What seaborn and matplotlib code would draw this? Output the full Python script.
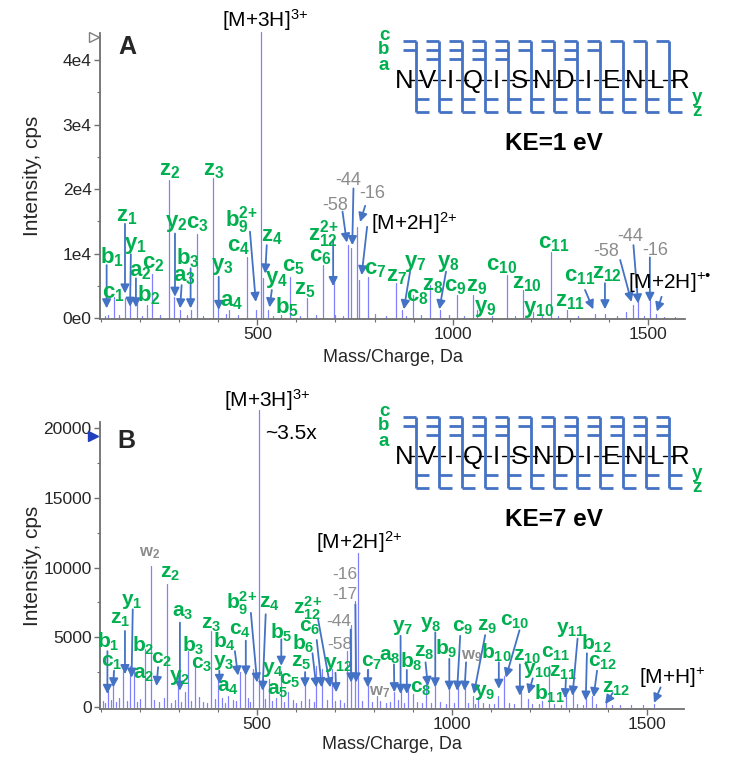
import numpy as np
import pandas as pd
import matplotlib
matplotlib.use("Agg")
import matplotlib.pyplot as plt
import seaborn as sns

sns.set_theme(style="white")
plt.rcParams["font.family"] = ["Liberation Sans", "DejaVu Sans"]
plt.rcParams["mathtext.fontset"] = "custom"
plt.rcParams["mathtext.rm"] = "Liberation Sans"
plt.rcParams["mathtext.bf"] = "Liberation Sans:bold"
plt.rcParams["mathtext.it"] = "Liberation Sans:italic"

# ---- Panel A (KE = 1 eV) peaks: m/z and intensity (cps)
a_mz = [118, 134, 161, 174, 191, 217, 231, 273, 287, 302, 329, 345, 387, 400, 428, 473, 496,
        509, 515, 528, 584, 626, 669, 696, 733, 740, 754, 761, 784, 854, 870, 898, 942, 968,
        1010, 1053, 1062, 1138, 1179, 1207, 1251, 1292, 1365, 1390, 1444, 1463, 1475, 1505, 1521]
a_int = [470, 3300, 3050, 2800, 2800, 2000, 6900, 21400, 3300, 1250, 1250, 13100, 21650, 1750,
         1250, 9500, 1250, 44400, 6150, 1250, 6400, 3050, 8200, 5900, 11300, 10800, 14150, 5900,
         6400, 5400, 1250, 3550, 5100, 1250, 3550, 3550, 1250, 6650, 4350, 1000, 10300, 1250,
         700, 700, 1000, 2000, 2800, 2800, 700]
a_noise_mz = [110, 145, 205, 250, 320, 360, 420, 450, 540, 560, 610, 650, 700, 720, 800, 830,
              880, 920, 990, 1030, 1100, 1160, 1230, 1270, 1320, 1420, 1490, 1540, 1570]
a_noise_int = [300, 450, 350, 400, 500, 380, 600, 420, 350, 500, 300, 450, 400, 350, 600, 380,
               300, 450, 400, 350, 300, 280, 350, 300, 250, 300, 250, 200, 180]

# ---- Panel B (KE = 7 eV) peaks
b_mz = [117, 131, 157, 174, 184, 212, 227, 269, 298, 315, 323, 340, 383, 400, 426, 456, 468,
        490, 505, 514, 531, 562, 579, 623, 652, 666, 693, 730, 740, 750, 758, 784, 807, 852,
        870, 887, 899, 934, 957, 993, 1015, 1032, 1053, 1066, 1117, 1134, 1177, 1194, 1232,
        1249, 1292, 1309, 1343, 1360, 1395, 1518]
b_int = [1160, 2470, 2600, 2950, 2700, 4150, 10100, 8800, 2470, 1050, 4000, 3050, 5450, 1900,
         800, 2470, 2600, 2700, 21300, 2000, 2000, 2600, 1050, 2470, 2950, 2700, 2700, 4000,
         5900, 7600, 11050, 2700, 800, 1050, 1300, 1300, 930, 1900, 1500, 1650, 1650, 1400,
         800, 700, 800, 2250, 1050, 570, 450, 2950, 1300, 1050, 570, 800, 570, 200]
b_noise_mz = [104, 110, 124, 138, 145, 166, 192, 200, 236, 248, 262, 280, 290, 306, 330, 352,
              362, 372, 392, 410, 418, 438, 446, 476, 482, 520, 538, 548, 570, 592, 600, 612,
              632, 645, 680, 700, 712, 722, 770, 795, 815, 830, 842, 862, 878, 910, 922, 945,
              970, 985, 1005, 1042, 1060, 1080, 1095, 1108, 1145, 1160, 1205, 1222, 1262, 1280,
              1320, 1335, 1370, 1410, 1430, 1460, 1490]
b_noise_int = [420, 300, 520, 380, 610, 450, 330, 560, 480, 350, 640, 290, 510, 380, 450, 700,
               360, 280, 540, 620, 300, 470, 390, 650, 320, 580, 430, 610, 370, 500, 260, 430,
               560, 340, 480, 390, 520, 300, 450, 360, 410, 280, 330, 470, 250, 360, 300, 280,
               320, 240, 300, 260, 220, 280, 200, 240, 260, 200, 230, 180, 210, 170, 200, 160,
               180, 150, 170, 140, 150]

# ---- Panel A annotations: label, label position, optional arrow (tail -> tip)
a_lab = ["b_{1}", "c_{1}", "z_{1}", "y_{1}", "a_{2}", "c_{2}", "b_{2}", "z_{2}", "y_{2}", "c_{3}",
         "b_{3}", "a_{3}", "z_{3}", "y_{3}", "a_{4}", "c_{4}", "b_{9}^{2\\!+}", "z_{4}", "y_{4}",
         "b_{5}", "c_{5}", "z_{5}", "c_{6}", "z_{12}^{2\\!+}", "-58", "-44", "-16",
         "[M+2H]$^{2\\!+}$", "c_{7}", "[M+3H]$^{3\\!+}$", "z_{7}", "y_{7}", "c_{8}", "z_{8}",
         "y_{8}", "c_{9}", "z_{9}", "y_{9}", "c_{10}", "z_{10}", "y_{10}", "c_{11}", "z_{11}",
         "c_{11}", "z_{12}", "-58", "-44", "-16", "[M+2H]$^{+\u2022}$"]
a_lab_mz = [127, 131, 165, 187, 199, 233, 223, 276, 293, 345, 323, 312, 389, 411, 434, 451, 460,
            537, 548, 575, 592, 622, 660, 669, 699, 733, 793, 901, 801, 521, 857, 904, 910, 949,
            989, 1006, 1062, 1083, 1126, 1190, 1219, 1258, 1301, 1326, 1394, 1394, 1454, 1518,
            1556]
a_lab_int = [9500, 3800, 15700, 11300, 7200, 8500, 3550, 22900, 14700, 14700, 9250, 6400, 22900,
             7950, 2500, 11050, 15200, 12600, 5900, 1750, 7950, 4350, 9500, 13100, 17500, 21400,
             19300, 14700, 7450, 46200, 6400, 8500, 3300, 5100, 8500, 4850, 4850, 1500, 8200,
             5400, 1250, 11600, 2500, 6400, 6900, 10300, 12600, 10500, 5400]
a_tail = [(114, 8200), None, (161, 14600), (176, 9900), (189, 6150), None, None, None,
          (289, 13100), None, (329, 7700), (306, 5100), None, (401, 6400), None, None,
          (481, 13400), (524, 11300), (537, 4350), None, None, None, None, (694, 12100),
          (718, 16500), (746, 20100), (776, 17400), (781, 14150), None, None, None, (891, 7200),
          None, None, (983, 7200), None, None, None, None, None, None, None, None, (1339, 4350),
          (1390, 5400), (1429, 9000), (1463, 11300), (1505, 9400), (1535, 3300)]
a_tip = [(114, 1500), None, (161, 3800), (174, 1750), (189, 1650), None, None, None,
         (289, 3300), None, (329, 1500), (302, 1500), None, (401, 1250), None, None,
         (496, 2500), (520, 6900), (531, 1650), None, None, None, None, (694, 4950),
         (729, 11700), (743, 11300), (763, 14900), (767, 6650), None, None, None, (875, 1350),
         None, None, (966, 1350), None, None, None, None, None, None, None, None, (1360, 1350),
         (1390, 1350), (1458, 2500), (1475, 2250), (1505, 2500), (1523, 1000)]

# ---- Panel B annotations
b_lab = ["b_{1}", "c_{1}", "z_{1}", "y_{1}", "a_{2}", "b_{2}", "w_{2}", "z_{2}", "c_{2}", "a_{3}",
         "y_{2}", "b_{3}", "c_{3}", "z_{3}", "y_{3}", "a_{4}", "b_{4}", "c_{4}", "b_{9}^{2\\!+}",
         "z_{4}", "y_{4}", "a_{5}", "c_{5}", "b_{5}", "z_{5}", "b_{6}", "c_{6}", "z_{12}^{2\\!+}",
         "y_{12}", "-58", "-44", "-17", "-16", "[M+2H]$^{2\\!+}$", "c_{7}", "w_{7}",
         "[M+3H]$^{3\\!+}$", "~3.5x", "a_{8}", "y_{7}", "b_{8}", "c_{8}", "z_{8}", "y_{8}", "b_{9}",
         "c_{9}", "w_{9}", "z_{9}", "y_{9}", "b_{10}", "c_{10}", "z_{10}", "y_{10}", "c_{11}",
         "z_{11}", "b_{11}", "y_{11}", "b_{12}", "c_{12}", "z_{12}", "[M+H]$^{+}$"]
b_lab_mz = [118, 127, 148, 178, 208, 208, 225, 276, 255, 310, 302, 336, 357, 383, 415, 426, 417,
            456, 460, 531, 541, 554, 584, 562, 613, 618, 635, 630, 710, 712, 710, 724, 724, 763,
            793, 814, 525, 586, 840, 874, 895, 921, 929, 946, 985, 1027, 1049, 1091, 1083, 1113,
            1160, 1194, 1219, 1266, 1284, 1249, 1305, 1369, 1386, 1420, 1565]
b_lab_int = [4700, 3200, 6300, 7600, 2350, 4400, 11050, 9600, 3400, 6750, 2100, 4400, 3050,
             5900, 3200, 1400, 4700, 5450, 7450, 7450, 2700, 1160, 1900, 5350, 3200, 4500, 5700,
             7100, 3050, 4500, 6150, 8050, 9500, 11850, 3200, 1050, 22000, 19600, 3650, 5700,
             3200, 1300, 3900, 5900, 4150, 5700, 3650, 5800, 1050, 3900, 6150, 3650, 2600, 3800,
             2470, 930, 5550, 4500, 3200, 1300, 2100]
b_tail = [(116, 4000), (133, 2600), (161, 5450), (181, 7000), None, None, None, None,
          (246, 2850), (302, 6050), None, None, None, None, (403, 2600), None, (443, 4000),
          (471, 4750), (484, 6750), (522, 6650), None, None, None, (562, 4850), (623, 2500),
          (642, 3850), (653, 4800), (656, 6350), (701, 2450), None, (740, 5550), (752, 7350),
          None, None, (784, 2650), None, None, None, (851, 3050), (868, 5100), (884, 2650), None,
          (932, 3200), (957, 5350), (993, 3450), (1021, 5100), (1036, 3200), (1085, 5150), None,
          (1120, 3200), (1173, 5500), (1174, 3050), (1207, 2050), None, (1292, 1950), None,
          (1322, 4900), (1346, 3850), (1372, 2600), (1412, 1000), (1535, 1400)]
b_tip = [(116, 930), (131, 1400), (161, 2350), (178, 2100), None, None, None, None,
         (242, 1500), (302, 1160), None, None, None, None, (404, 1650), None, (451, 2250),
         (471, 2250), (500, 1750), (514, 1160), None, None, None, (562, 2950), (623, 1400),
         (652, 1400), (666, 1400), (688, 1400), (703, 1050), None, (741, 1750), (754, 1750),
         None, None, (784, 1400), None, None, None, (852, 1050), (868, 930), (884, 930), None,
         (938, 1500), (957, 1400), (993, 1160), (1013, 1160), (1032, 1160), (1056, 930), None,
         (1120, 1300), (1138, 2100), (1174, 800), (1196, 930), None, (1290, 620), None,
         (1309, 800), (1343, 450), (1363, 700), (1393, 200), (1518, 290)]

# ---- peptide sequence and observed fragment ladders per cleavage site
sequence = list("NVIQISNDIENLR")
a_top = ["cb", "cba", "cba", "cba", "cba", "cb", "cb", "cba", "cb", "c", "c", "c"]
b_top = ["cb", "cba", "cba", "cba", "cba", "cb", "cb", "cba", "cba", "cba", "cba", "cba"]
a_bottom = ["yz"] * 12
b_bottom = ["yz"] * 12

GREEN = "#00B050"
GREY = "#8c8c8c"
ARROW = "#4472C4"
PEAK = "#8080ff"


def stick_frame(mz, inten):
    rows = []
    for k, (m, i) in enumerate(zip(mz, inten)):
        rows.append((k, m, 0))
        rows.append((k, m, i))
    return pd.DataFrame(rows, columns=["peak", "mz", "intensity"])


def draw_spectrum(ax, mz, inten, noise_mz, noise_int):
    df = stick_frame(list(noise_mz) + list(mz), list(noise_int) + list(inten))
    sns.lineplot(data=df, x="mz", y="intensity", units="peak", estimator=None, sort=False,
                 color=PEAK, lw=0.9, ax=ax, legend=False)
    for line in ax.get_lines():
        line.set_clip_on(False)


def draw_labels(ax, labels, lmz, lint, tails, tips, size, gsize):
    for t, x, y, tail, tip in zip(labels, lmz, lint, tails, tips):
        if tail is not None:
            ax.annotate("", xy=tip, xytext=tail,
                        arrowprops=dict(arrowstyle="-|>", color=ARROW, lw=1.3,
                                        mutation_scale=13, shrinkA=0, shrinkB=0))
        if t.startswith("[") or t.startswith("~"):
            ax.text(x, y, t, ha="center", va="center", fontsize=15, color="black")
        elif t.startswith("-"):
            ax.text(x, y, t, ha="center", va="center", fontsize=gsize, color=GREY)
        elif t.startswith("w"):
            ax.text(x, y, r"$\mathbf{" + t + "}$", ha="center", va="center",
                    fontsize=gsize - 0.5, color=GREY)
        else:
            ax.text(x, y, r"$\mathbf{" + t + "}$", ha="center", va="center",
                    fontsize=size, color=GREEN)


def style_axes(ax, ymax, yticks, yticklabels, yminor):
    ax.set_xlim(97, 1595)
    ax.set_ylim(-150, ymax)
    ax.set_xticks([500, 1000, 1500])
    ax.set_xticks(np.arange(100, 1600, 100), minor=True)
    ax.set_yticks(yticks)
    ax.set_yticklabels(yticklabels)
    ax.set_yticks(yminor, minor=True)
    for s in ["top", "right"]:
        ax.spines[s].set_visible(False)
    for s in ["left", "bottom"]:
        ax.spines[s].set_color("#707070")
        ax.spines[s].set_linewidth(1.3)
    ax.tick_params(which="major", direction="out", length=4, width=1, color="#707070",
                   labelsize=12.5, left=True, bottom=True, pad=2)
    ax.tick_params(which="minor", direction="out", length=2, width=0.8, color="#707070",
                   left=True, bottom=True)
    ax.set_xlabel("Mass/Charge, Da", fontsize=13)
    ax.set_ylabel("Intensity, cps", fontsize=15)
    ax.yaxis.set_label_coords(-0.1, 0.5)


def draw_sequence(ov, x0, yc, tops, bottoms, ke_text, ke_y):
    step = 23
    for i, res in enumerate(sequence):
        ov.text(x0 + step * i, yc + 9, res, ha="center", va="baseline", fontsize=18.5,
                color="black")
    top_lv = {"c": yc - 38, "b": yc - 29, "a": yc - 20}
    bot_lv = {"y": yc + 20, "z": yc + 33}
    for s in range(len(sequence) - 1):
        xm = x0 + step * s + step / 2
        ov.plot([xm - 6, xm - 2], [yc + 1, yc + 1], color="black", lw=1.0)
        ov.plot([xm + 2, xm + 6], [yc + 1, yc + 1], color="black", lw=1.0)
        ytop = min(top_lv[f] for f in tops[s])
        ov.plot([xm, xm], [ytop, bot_lv["z"]], color=ARROW, lw=2.0, solid_capstyle="butt")
        for f in tops[s]:
            ov.plot([xm - 13, xm], [top_lv[f]] * 2, color=ARROW, lw=2.0, solid_capstyle="butt")
        for f in bottoms[s]:
            ov.plot([xm, xm + 13], [bot_lv[f]] * 2, color=ARROW, lw=2.0, solid_capstyle="butt")
    for f, dy in zip("cba", (-44, -29, -14)):
        ov.text(x0 - 20, yc + dy, f, ha="center", va="center", fontsize=13.5,
                fontweight="bold", color=GREEN)
    for f, dy in zip("yz", (18, 33)):
        ov.text(x0 + step * 12 + 17, yc + dy, f, ha="center", va="center", fontsize=13.5,
                fontweight="bold", color=GREEN)
    ov.text(x0 + 150, ke_y, ke_text, ha="center", va="center", fontsize=17.5,
            fontweight="bold", color="black")


fig = plt.figure(figsize=(7.5, 7.58), dpi=100)
axA = fig.add_axes([100 / 750, 1 - 319 / 758, 585 / 750, 286 / 758])
axB = fig.add_axes([100 / 750, 1 - 709 / 758, 584 / 750, 287 / 758])

# Panel A
draw_spectrum(axA, a_mz, a_int, a_noise_mz, a_noise_int)
style_axes(axA, 44200, [0, 10000, 20000, 30000, 40000], ["0e0", "1e4", "2e4", "3e4", "4e4"],
           [5000, 15000, 25000, 35000])
axA.xaxis.set_label_coords(0.5, -0.105)
draw_labels(axA, a_lab, a_lab_mz, a_lab_int, a_tail, a_tip, 16, 13)
axA.text(0.046, 0.95, "A", transform=axA.transAxes, fontsize=18, fontweight="bold",
         ha="center", va="center")
axA.plot([-0.01], [0.987], marker=">", ms=7, mfc="white", mec="#808080", mew=1,
         transform=axA.transAxes, clip_on=False)

# Panel B
draw_spectrum(axB, b_mz, b_int, b_noise_mz, b_noise_int)
style_axes(axB, 20450, [0, 5000, 10000, 15000, 20000], ["0", "5000", "10000", "15000", "20000"],
           [2500, 7500, 12500, 17500])
axB.xaxis.set_label_coords(0.5, -0.095)
draw_labels(axB, b_lab, b_lab_mz, b_lab_int, b_tail, b_tip, 15, 12.5)
axB.text(0.046, 0.935, "B", transform=axB.transAxes, fontsize=18, fontweight="bold",
         ha="center", va="center")
axB.plot([-0.012], [0.951], marker=">", ms=7, color="#1f3fbf",
         transform=axB.transAxes, clip_on=False)

# sequence diagrams on an overlay in pixel units
ov = fig.add_axes([0, 0, 1, 1], facecolor="none")
ov.set_xlim(0, 750)
ov.set_ylim(758, 0)
ov.axis("off")
draw_sequence(ov, 404, 79, a_top, a_bottom, "KE=1 eV", 143)
draw_sequence(ov, 404, 455, b_top, b_bottom, "KE=7 eV", 520)

fig.savefig("out.png", dpi=100)
plt.close(fig)
